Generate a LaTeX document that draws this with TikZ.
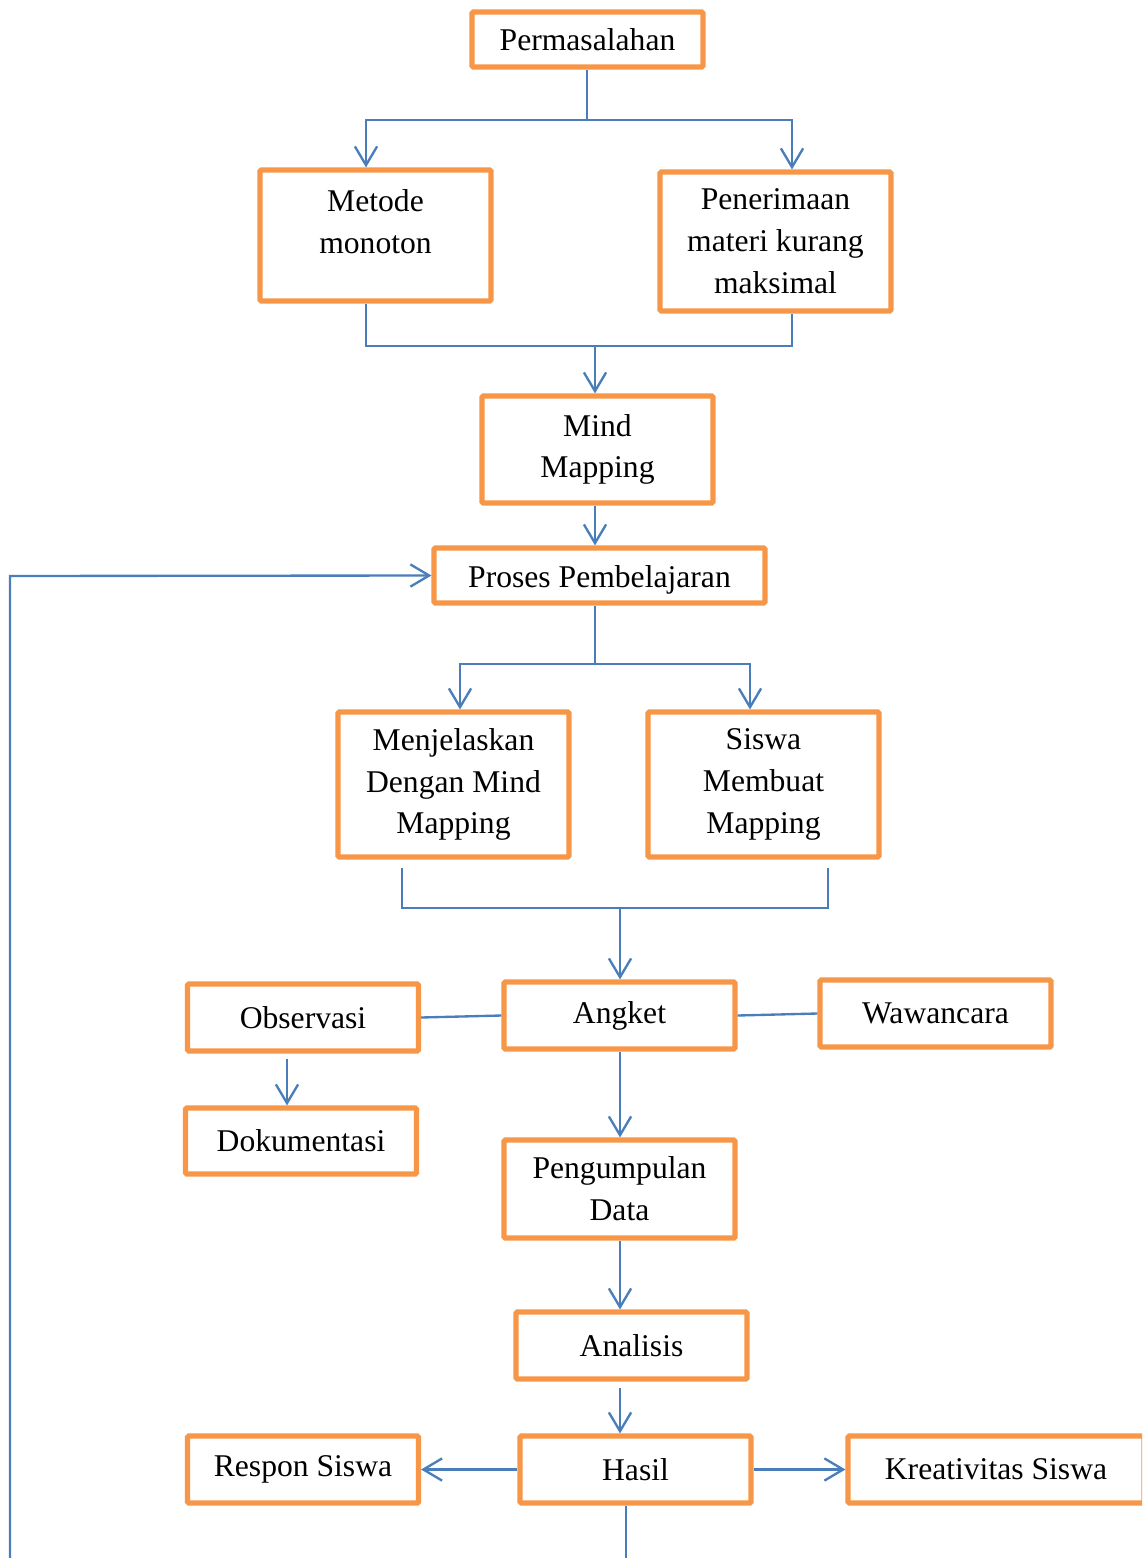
\documentclass[tikz,border=0pt]{standalone}
\usepackage{fontspec}
\setmainfont{Liberation Serif}
\usetikzlibrary{arrows.meta}
\definecolor{kotak}{HTML}{F79646}
\definecolor{garis}{HTML}{4A7EBB}
\tikzset{
  kotak/.style={draw=kotak, line width=4.4pt, rounded corners=1pt, align=center,
    minimum width=69.3mm, inner sep=2pt, font=\fontsize{27}{35.7}\selectfont},
  link/.style={draw=garis, line width=2pt},
  arr/.style={link, -{Straight Barb[length=16pt,width=19pt,line width=2pt]}}
}
\begin{document}
\begin{tikzpicture}[x=0.3mm,y=-0.3mm]
  \useasboundingbox (0,0) rectangle (1142,1558);
  \clip (0,0) rectangle (1142,1558);
  % kotak-kotak
  \node[kotak, minimum height=16.5mm] (perm) at (587.5,39.5) {Permasalahan};
  \node[kotak, minimum height=39.3mm, text depth=24pt] (metode) at (375.5,235.5) {Metode\\monoton};
  \node[kotak, minimum height=41.7mm] (terima) at (775.5,241.5) {Penerimaan\\materi kurang\\maksimal};
  \node[kotak, minimum height=32.1mm] (mind) at (597.5,449.5) {Mind\\Mapping};
  \node[kotak, minimum height=16.5mm, minimum width=99.3mm, text height=27pt] (proses) at (599.5,575.5) {Proses Pembelajaran};
  \node[kotak, minimum height=43.5mm] (jelas) at (453.5,784.5) {Menjelaskan\\Dengan Mind\\Mapping};
  \node[kotak, minimum height=43.5mm] (buat) at (763.5,784.5) {Siswa\\Membuat\\Mapping};
  \node[kotak, minimum height=20.1mm] (obs) at (303,1017.5) {Observasi};
  \node[kotak, minimum height=20.1mm] (angket) at (619.5,1015.5) {Angket};
  \node[kotak, minimum height=20.1mm] (wawan) at (935.5,1013.5) {Wawancara};
  \node[kotak, minimum height=19.8mm] (doku) at (301,1141) {Dokumentasi};
  \node[kotak, minimum height=29.4mm] (kumpul) at (619.5,1189) {Pengumpulan\\Data};
  \node[kotak, minimum height=20.1mm] (analisis) at (631.5,1345.5) {Analisis};
  \node[kotak, minimum height=20.1mm] (respon) at (303,1469.5) {Respon Siswa};
  \node[kotak, minimum height=20.1mm] (hasil) at (635.5,1469.5) {Hasil};
  \node[kotak, minimum height=20.1mm, minimum width=88.8mm] (kreatif) at (996,1469.5) {Kreativitas Siswa};
  % titik cabang
  \coordinate (s1) at (587,120);
  \coordinate (s2) at (595,346);
  \coordinate (s3) at (595,664);
  \coordinate (s4) at (620,908);
  \coordinate (balik) at (10,1558);
  \coordinate (keluar) at (626,1558);
  % garis
  \draw[link] (perm.south -| s1) -- (s1);
  \draw[arr] (s1) -| (metode.north -| 366,0);
  \draw[arr] (s1) -| (terima.north -| 792,0);
  \draw[link] (metode.south -| 366,0) |- (s2) -| (terima.south -| 792,0);
  \draw[arr] (s2) -- (mind.north -| s2);
  \draw[arr] (mind.south -| s2) -- (proses.north -| s2);
  \draw[arr] (balik) -- (10,576) -- (proses.west);
  \draw[link] (proses.south -| s3) -- (s3);
  \draw[arr] (s3) -| (jelas.north -| 460,0);
  \draw[arr] (s3) -| (buat.north -| 750,0);
  \draw[link] (jelas.south -| 402,0) ++(0,8) |- (s4);
  \draw[link] (buat.south -| 828,0) ++(0,8) |- (s4);
  \draw[arr] (s4) -- (angket.north -| s4);
  \draw[link] (obs.east) -- (angket.west);
  \draw[link] (angket.east) -- (wawan.west);
  \draw[arr] (obs.south -| 287,0) ++(0,5) -- (doku.north -| 287,0);
  \draw[arr] (angket.south -| s4) -- (kumpul.north -| s4);
  \draw[arr] (kumpul.south -| s4) -- (analisis.north -| s4);
  \draw[arr] (analisis.south -| s4) ++(0,6) -- (hasil.north -| s4);
  \draw[arr] (hasil.west) -- (respon.east);
  \draw[arr] (hasil.east) -- (kreatif.west);
  \draw[link] (hasil.south -| keluar) -- (keluar);
\end{tikzpicture}
\end{document}
